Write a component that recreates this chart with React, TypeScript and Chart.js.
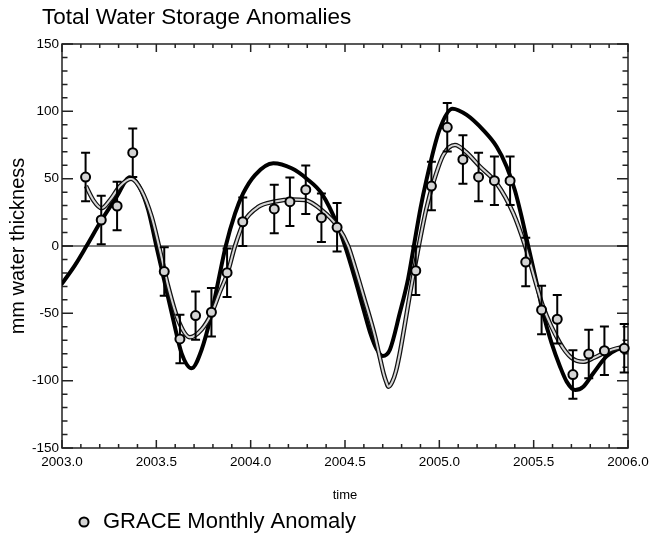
import React, { useEffect, useRef } from "react";
import { Chart, registerables } from "chart.js";

Chart.register(...registerables);

// ---- data ----
const MONTH_TIME = [
  2003.125, 2003.208, 2003.292, 2003.375, 2003.542, 2003.625, 2003.708, 2003.792, 2003.875, 2003.958,
  2004.125, 2004.208, 2004.292, 2004.375, 2004.458, 2004.875, 2004.958, 2005.042, 2005.125, 2005.208,
  2005.292, 2005.375, 2005.458, 2005.542, 2005.625, 2005.708, 2005.792, 2005.875, 2005.98,
];
const GRACE_ANOMALY = [
  51.2, 19.3, 29.7, 69.3, -19, -69, -51.7, -49.2, -19.8, 18,
  27.5, 32.9, 41.8, 21, 13.9, -18.3, 44.5, 88.1, 64.3, 51.3,
  48.5, 48.5, -11.9, -47.5, -54.4, -95.5, -80.2, -77.7, -76,
];
const GRACE_ERROR = [
  18, 18, 18, 18, 18, 18, 18, 18, 18, 18,
  18, 18, 18, 18, 18, 18, 18, 18, 18, 18,
  18, 18, 18, 18, 18, 18, 18, 18, 18,
];

const MODEL_TIME = [
  2003.0, 2003.07, 2003.13, 2003.21, 2003.29, 2003.36, 2003.41, 2003.457, 2003.5, 2003.546,
  2003.59, 2003.634, 2003.687, 2003.74, 2003.793, 2003.83, 2003.868, 2003.917, 2003.96, 2004.023,
  2004.12, 2004.217, 2004.297, 2004.376, 2004.464, 2004.5, 2004.55, 2004.6, 2004.635, 2004.668,
  2004.7, 2004.738, 2004.79, 2004.835, 2004.865, 2004.9, 2004.93, 2005.0, 2005.07, 2005.145,
  2005.233, 2005.304, 2005.357, 2005.4, 2005.436, 2005.471, 2005.516, 2005.55, 2005.595, 2005.64,
  2005.675, 2005.72, 2005.763, 2005.816, 2005.886, 2005.94, 2006.0,
];
const MODEL_VALUE = [
  -28, -14, 0, 19.3, 36.6, 51, 44, 26.7, 0, -28,
  -55, -79.7, -90.8, -77, -50, -25, 0, 24, 39, 52.7,
  61.4, 57.7, 50, 39, 14.3, 0, -23, -48, -65, -76.5,
  -81.7, -77, -50, -24, 0, 28, 48, 86, 102, 97.3,
  86, 73.7, 58.9, 41.6, 21.8, 0, -27.7, -50, -72.2, -89.6,
  -100.7, -107, -104.5, -94.5, -82, -77, -75,
];

const FIT_TIME = [
  2003.127, 2003.166, 2003.21, 2003.254, 2003.307, 2003.366, 2003.42, 2003.475, 2003.514, 2003.563,
  2003.616, 2003.678, 2003.74, 2003.793, 2003.837, 2003.878, 2003.917, 2003.965, 2004.04, 2004.129,
  2004.217, 2004.288, 2004.376, 2004.464, 2004.517, 2004.552, 2004.6, 2004.659, 2004.685, 2004.705,
  2004.72, 2004.73, 2004.75, 2004.77, 2004.79, 2004.815, 2004.845, 2004.875, 2004.895, 2004.93,
  2004.968, 2005.021, 2005.083, 2005.14, 2005.215, 2005.304, 2005.392, 2005.455, 2005.55, 2005.64,
  2005.7, 2005.763, 2005.82, 2005.886, 2005.94, 2006.0,
];
const FIT_VALUE = [
  44.5, 34, 28, 34, 44.5, 50, 41.6, 21.8, 0, -30,
  -55, -67.8, -62, -50, -34, -19.8, 0, 18, 29, 33,
  34.6, 34.1, 26.7, 13.9, 0, -15.3, -38, -67, -83, -95,
  -101.5, -104.5, -101, -93, -80, -60, -35, -12, 3, 27,
  47, 67.6, 75, 70, 59, 46.5, 24.3, 0, -45, -72.2,
  -83, -86, -83, -78.5, -76, -74.8,
];

const X_MIN = 2003.0;
const X_MAX = 2006.0;
const Y_MIN = -150;
const Y_MAX = 150;
const X_MAJOR_STEP = 0.5;
const Y_MAJOR_STEP = 50;
const X_MINOR_PER_YEAR = 10;
const Y_MINOR_STEP = 10;

const TITLE = "Total Water Storage Anomalies";
const X_TITLE = "time";
const Y_TITLE = "mm water thickness";
const LEGEND_LABEL = "GRACE Monthly Anomaly";

const FONT = "'Liberation Sans', Arial, Helvetica, sans-serif";
const POINTS_INDEX = 4;
const TITLE_LEFT = 42;

const toXY = (xs: number[], ys: number[]) => xs.map((x, i) => ({ x, y: ys[i] }));

const titleShiftPlugin = {
  id: "titleShift",
  afterLayout(chart: any) {
    if (chart.titleBlock) chart.titleBlock.left = TITLE_LEFT;
  },
};

const frameTicksPlugin = {
  id: "frameTicks",
  beforeDatasetsDraw(chart: any) {
    const { ctx, chartArea, scales } = chart;
    const { left, right, top, bottom } = chartArea;
    const xs = scales.x;
    const ys = scales.y;
    ctx.save();
    ctx.strokeStyle = "#222";
    ctx.lineWidth = 1.5;
    ctx.strokeRect(left, top, right - left, bottom - top);
    ctx.beginPath();
    const nX = Math.round((X_MAX - X_MIN) * X_MINOR_PER_YEAR);
    for (let k = 0; k <= nX; k++) {
      const v = X_MIN + k / X_MINOR_PER_YEAR;
      const px = xs.getPixelForValue(v);
      const len = k % 5 === 0 ? 8 : 4;
      ctx.moveTo(px, bottom);
      ctx.lineTo(px, bottom - len);
      ctx.moveTo(px, top);
      ctx.lineTo(px, top + len);
    }
    for (let v = Y_MIN; v <= Y_MAX; v += Y_MINOR_STEP) {
      const py = ys.getPixelForValue(v);
      const len = v % Y_MAJOR_STEP === 0 ? 11 : 5.5;
      ctx.moveTo(left, py);
      ctx.lineTo(left + len, py);
      ctx.moveTo(right, py);
      ctx.lineTo(right - len, py);
    }
    ctx.stroke();
    ctx.restore();
  },
};

const errorBarPlugin = {
  id: "errorBars",
  beforeDatasetDraw(chart: any, args: any) {
    if (args.index !== POINTS_INDEX) return;
    const { ctx, scales } = chart;
    const xs = scales.x;
    const ys = scales.y;
    ctx.save();
    ctx.strokeStyle = "#000";
    ctx.lineWidth = 2;
    MONTH_TIME.forEach((t, i) => {
      const px = xs.getPixelForValue(t);
      const yTop = ys.getPixelForValue(GRACE_ANOMALY[i] + GRACE_ERROR[i]);
      const yBot = ys.getPixelForValue(GRACE_ANOMALY[i] - GRACE_ERROR[i]);
      ctx.beginPath();
      ctx.moveTo(px, yTop);
      ctx.lineTo(px, yBot);
      ctx.moveTo(px - 4.5, yTop);
      ctx.lineTo(px + 4.5, yTop);
      ctx.moveTo(px - 4.5, yBot);
      ctx.lineTo(px + 4.5, yBot);
      ctx.stroke();
    });
    ctx.restore();
  },
};

export default function App() {
  const canvasRef = useRef<HTMLCanvasElement | null>(null);

  useEffect(() => {
    const canvas = canvasRef.current;
    if (!canvas) return;
    Chart.defaults.font.family = FONT;
    Chart.defaults.color = "#000";

    const chart = new Chart(canvas, {
      type: "line",
      data: {
        datasets: [
          {
            label: "zero",
            data: toXY([X_MIN, X_MAX], [0, 0]),
            borderColor: "#000",
            borderWidth: 1,
            pointRadius: 0,
            order: 5,
          },
          {
            label: "model",
            data: toXY(MODEL_TIME, MODEL_VALUE),
            borderColor: "#000",
            borderWidth: 4,
            pointRadius: 0,
            cubicInterpolationMode: "monotone",
            borderCapStyle: "round",
            borderJoinStyle: "round",
            order: 4,
          },
          {
            label: "fit-outline",
            data: toXY(FIT_TIME, FIT_VALUE),
            borderColor: "#111",
            borderWidth: 4.5,
            pointRadius: 0,
            cubicInterpolationMode: "monotone",
            order: 3,
          },
          {
            label: "fit-inner",
            data: toXY(FIT_TIME, FIT_VALUE),
            borderColor: "#d6d6d6",
            borderWidth: 2,
            pointRadius: 0,
            cubicInterpolationMode: "monotone",
            order: 2,
          },
          {
            label: LEGEND_LABEL,
            data: toXY(MONTH_TIME, GRACE_ANOMALY),
            showLine: false,
            backgroundColor: "#d4d4d4",
            borderColor: "#000",
            pointBackgroundColor: "#d4d4d4",
            pointBorderColor: "#000",
            pointBorderWidth: 2,
            borderWidth: 2,
            pointRadius: 4.5,
            pointStyle: "circle",
            clip: false,
            order: 1,
          },
        ],
      } as any,
      options: {
        animation: false,
        responsive: false,
        devicePixelRatio: 1,
        events: [],
        layout: { padding: { left: 0, right: 22, top: 0, bottom: -8 } },
        plugins: {
          tooltip: { enabled: false },
          title: {
            display: true,
            text: TITLE,
            align: "start",
            color: "#000",
            font: { size: 22.5, weight: "normal", family: FONT },
            padding: { top: 4, bottom: 13 },
          },
          legend: {
            display: true,
            position: "bottom",
            align: "start",
            fullSize: false,
            labels: {
              usePointStyle: true,
              boxWidth: 16,
              boxHeight: 6.4,
              padding: 14,
              color: "#000",
              font: { size: 22, family: FONT },
              filter: (item: any) => item.datasetIndex === POINTS_INDEX,
            },
          },
        },
        scales: {
          x: {
            type: "linear",
            min: X_MIN,
            max: X_MAX,
            grid: { display: false, drawTicks: false },
            border: { display: false },
            ticks: {
              stepSize: X_MAJOR_STEP,
              autoSkip: false,
              maxRotation: 0,
              padding: 6,
              color: "#000",
              font: { size: 13.5, family: FONT },
              callback: (v: any) => Number(v).toFixed(1),
            },
            title: {
              display: true,
              text: X_TITLE,
              color: "#000",
              font: { size: 13, family: FONT },
              padding: { top: 0, bottom: -6 },
            },
            afterFit: (scale: any) => {
              scale.height = 49;
              scale.paddingLeft = 0;
              scale.paddingRight = 0;
            },
          },
          y: {
            type: "linear",
            min: Y_MIN,
            max: Y_MAX,
            grid: { display: false, drawTicks: false },
            border: { display: false },
            ticks: {
              stepSize: Y_MAJOR_STEP,
              padding: 3,
              color: "#000",
              font: { size: 13.5, family: FONT },
            },
            title: {
              display: true,
              text: Y_TITLE,
              color: "#000",
              font: { size: 20, family: FONT },
              padding: { top: 6, bottom: 0 },
            },
            afterFit: (scale: any) => {
              scale.width = 62;
            },
          },
        },
      } as any,
      plugins: [titleShiftPlugin, frameTicksPlugin, errorBarPlugin],
    });
    return () => chart.destroy();
  }, []);

  return (
    <div style={{ position: "fixed", left: 0, top: 0, width: 650, height: 535, background: "#fff" }}>
      <canvas ref={canvasRef} width={650} height={535} style={{ display: "block" }} />
    </div>
  );
}
